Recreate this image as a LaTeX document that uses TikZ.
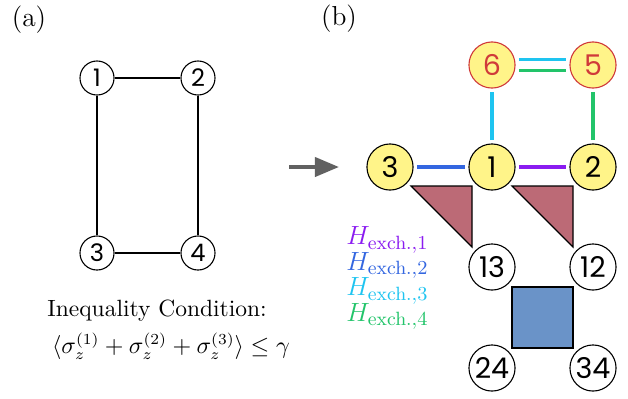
\documentclass[tikz,border=0pt]{standalone}
\usepackage{fontspec}
\setsansfont{Poppins}
\usepackage{amsmath}
\usetikzlibrary{arrows.meta,positioning}
\definecolor{siteyellow}{HTML}{FFF489}
\definecolor{plaqred}{HTML}{BC6A76}
\definecolor{plaqblue}{HTML}{6A93C8}
\definecolor{ancred}{HTML}{D03A3A}
\definecolor{exchA}{HTML}{8A1CF0}
\definecolor{exchB}{HTML}{3366E0}
\definecolor{exchC}{HTML}{1EC4F0}
\definecolor{exchD}{HTML}{22C46A}
\tikzset{
  site/.style = {circle, draw, line width=0.5pt, fill=white,
    minimum size=15.5pt, inner sep=0pt, font=\sffamily\fontsize{11}{12}\selectfont},
  bigsite/.style = {site, minimum size=21pt, font=\sffamily\fontsize{13}{14}\selectfont},
  qubit/.style = {bigsite, fill=siteyellow},
  ancilla/.style = {qubit, draw=ancred, text=ancred},
  bond/.style = {line width=0.9pt},
  exch/.style = {line width=1.4pt, shorten <=1.5pt, shorten >=1.5pt},
  plaq/.style = {draw, line width=0.5pt},
  panel/.style = {font=\fontsize{12.5}{14}\selectfont}
}
\begin{document}
\begin{tikzpicture}[x=0.016cm,y=-0.016cm]
  \useasboundingbox (0,0) rectangle (628,398);
  % panel (a)
  \node[panel] (lbla) at (29,20) {(a)};
  \node[site] (a1) at (97,78) {1};
  \node[site] (a2) at (198,78) {2};
  \node[site] (a3) at (97,253) {3};
  \node[site] (a4) at (198,253) {4};
  \draw[bond] (a1) -- (a2);
  \draw[bond] (a1) -- (a3);
  \draw[bond] (a2) -- (a4);
  \draw[bond] (a3) -- (a4);
  \node[font=\fontsize{10.7}{12}\selectfont] (cond) at (157,311) {Inequality Condition:};
  \node[font=\fontsize{10.7}{12}\selectfont] (ineq) at (171,346) {$\langle\sigma_z^{(1)}+\sigma_z^{(2)}+\sigma_z^{(3)}\rangle\leq\gamma$};
  % arrow
  \coordinate (arrA) at (289,167);
  \coordinate (arrB) at (339,167);
  \draw[black!62, line width=1.8pt, -{Triangle[length=11pt,width=8.7pt]}] (arrA) -- (arrB);
  % panel (b)
  \node[panel] (lblb) at (339,19) {(b)};
  % plaquettes
  \draw[plaq, fill=plaqred] (411,186) -- (472,186) -- (472,247) -- cycle;
  \draw[plaq, fill=plaqred] (512,186) -- (573,186) -- (573,247) -- cycle;
  \draw[plaq, fill=plaqblue] (512,287) rectangle (573,348);
  % sites
  \node[ancilla] (b6) at (492,65) {6};
  \node[ancilla] (b5) at (593,65) {5};
  \node[qubit] (b3) at (390,167) {3};
  \node[qubit] (b1) at (492,167) {1};
  \node[qubit] (b2) at (593,167) {2};
  \node[bigsite] (b13) at (492,267) {13};
  \node[bigsite] (b12) at (593,267) {12};
  \node[bigsite] (b24) at (492,368) {24};
  \node[bigsite] (b34) at (593,368) {34};
  % exchange terms
  \draw[exch, exchA] (b1) -- (b2);
  \draw[exch, exchB] (b3) -- (b1);
  \draw[exch, exchC] (b1) -- (b6);
  \draw[exch, exchD] (b2) -- (b5);
  \draw[exch, exchC] ([yshift=2.3pt]b6.east) -- ([yshift=2.3pt]b5.west);
  \draw[exch, exchD] ([yshift=-2.3pt]b6.east) -- ([yshift=-2.3pt]b5.west);
  % legend
  \foreach \k/\col/\yy in {1/exchA/240, 2/exchB/265.5, 3/exchC/291, 4/exchD/316.5}
    \node[anchor=west, text=\col, inner sep=0pt, font=\fontsize{12.5}{14}\selectfont] (leg\k) at (346,\yy) {$H_{\text{exch.},\k}$};
\end{tikzpicture}
\end{document}
